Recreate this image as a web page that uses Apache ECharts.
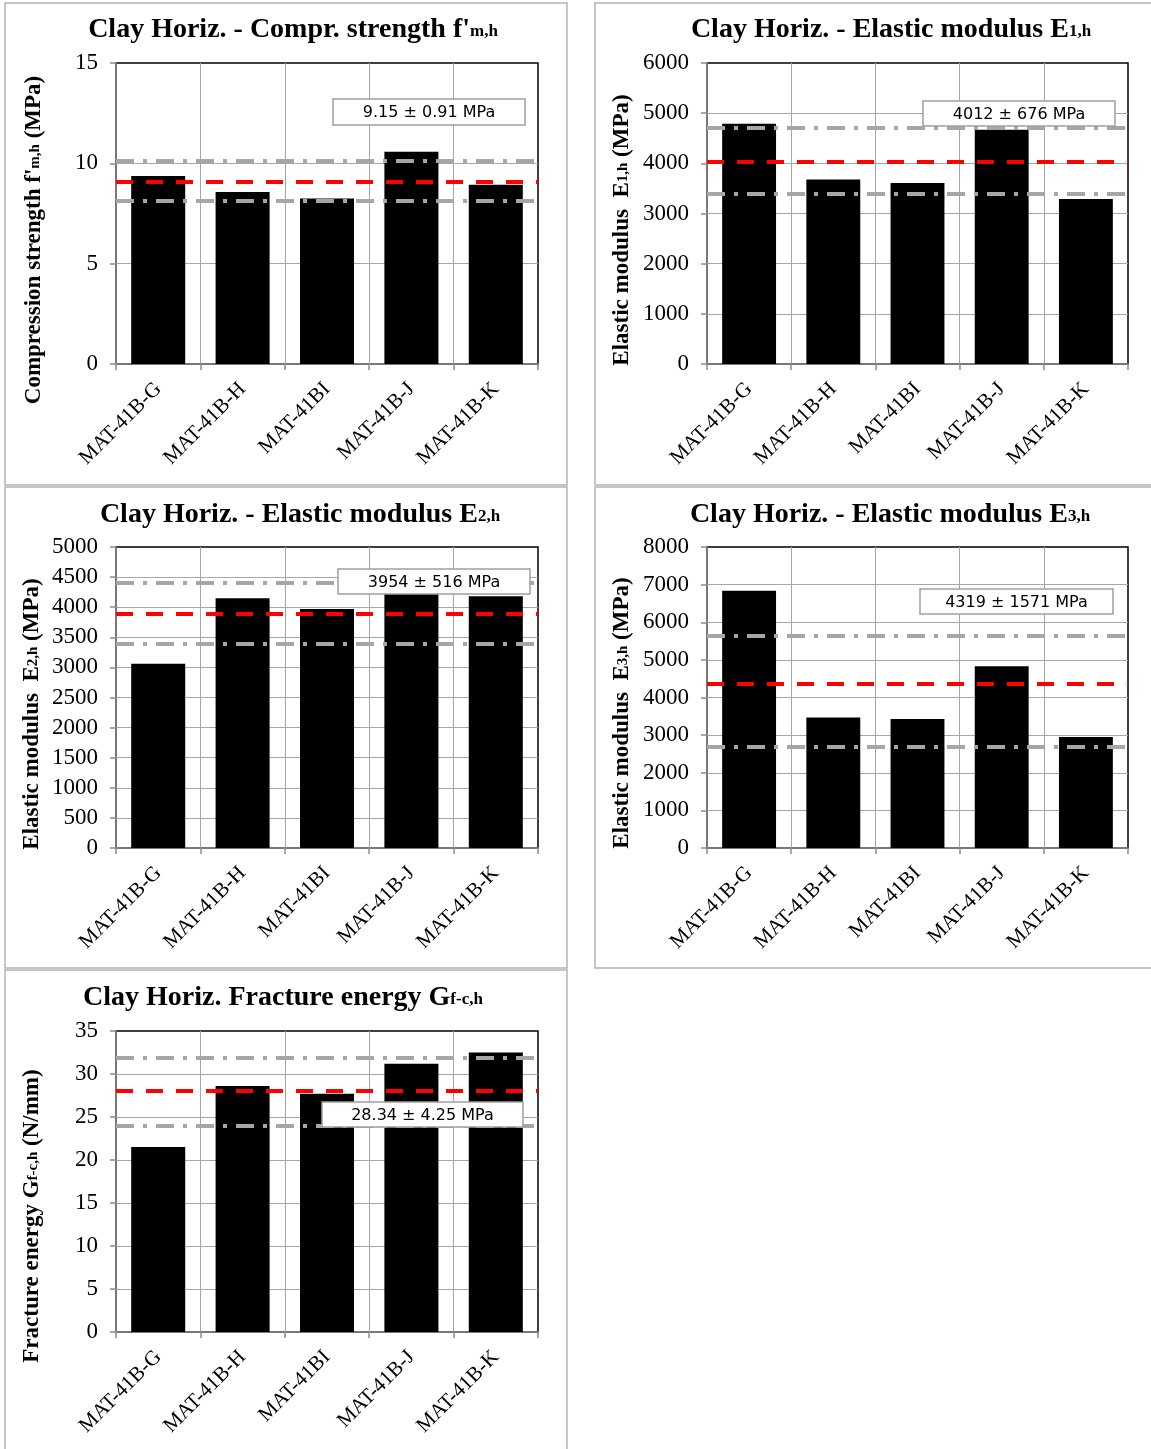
<!DOCTYPE html>
<html><head><meta charset="utf-8">
<script src="https://cdn.jsdelivr.net/npm/echarts@6/dist/echarts.min.js"></script>
<style>html,body{margin:0;padding:0;background:#fff}#c{width:1151px;height:1449px}</style>
</head><body><div id="c"></div>
<script>
// ---------- data ----------
const categories = ['MAT-41B-G', 'MAT-41B-H', 'MAT-41BI', 'MAT-41B-J', 'MAT-41B-K'];

const comprStrength = [9.37, 8.57, 8.25, 10.58, 8.93];      // MPa
const comprLines    = [10.15, 9.07, 8.12];                   // upper, mean, lower
const elasticE1     = [4790, 3680, 3610, 4670, 3290];       // MPa
const e1Lines       = [4710, 4030, 3390];
const elasticE2     = [3060, 4150, 3970, 4220, 4180];       // MPa
const e2Lines       = [4410, 3890, 3390];
const elasticE3     = [6840, 3470, 3430, 4830, 2950];       // MPa
const e3Lines       = [5630, 4360, 2690];
const fractureGf    = [21.5, 28.6, 27.7, 31.2, 32.5];       // N/mm
const gfLines       = [31.9, 28.0, 24.0];

const axisMax       = [15, 6000, 5000, 8000, 35];
const axisInterval  = [5, 1000, 500, 1000, 5];

const notes = ['9.15 ± 0.91 MPa', '4012 ± 676 MPa', '3954 ± 516 MPa', '4319 ± 1571 MPa', '28.34 ± 4.25 MPa'];

const titleParts = [
  ["Clay Horiz. - Compr. strength f'", 'm,h'],
  ['Clay Horiz. - Elastic modulus E', '1,h'],
  ['Clay Horiz. - Elastic modulus E', '2,h'],
  ['Clay Horiz. - Elastic modulus E', '3,h'],
  ['Clay Horiz. Fracture energy G', 'f-c,h']
];
const yNameParts = [
  ["Compression strength f'", 'm,h', ' (MPa)'],
  ['Elastic modulus  E', '1,h', ' (MPa)'],
  ['Elastic modulus  E', '2,h', ' (MPa)'],
  ['Elastic modulus  E', '3,h', ' (MPa)'],
  ['Fracture energy G', 'f-c,h', ' (N/mm)']
];

const seriesValues = [comprStrength, elasticE1, elasticE2, elasticE3, fractureGf];
const seriesLines  = [comprLines, e1Lines, e2Lines, e3Lines, gfLines];

// ---------- layout ----------
const layout = [
  {frame: [5, 3, 562, 482],   grid: [116, 63, 422, 301],  title: [293, 30],  yname: [34, 240],   box: [333, 99, 192, 26]},
  {frame: [595, 3, 560, 482], grid: [707, 63, 421, 301],  title: [891, 30],  yname: [622, 230],  box: [923, 101, 192, 25]},
  {frame: [5, 487, 562, 481], grid: [116, 547, 422, 301], title: [300, 515], yname: [32, 714],   box: [338, 569, 192, 25]},
  {frame: [595, 487, 560, 481], grid: [707, 547, 421, 301], title: [890, 515], yname: [622, 713], box: [920, 589, 193, 25]},
  {frame: [5, 970, 562, 482], grid: [116, 1031, 422, 301], title: [283, 998], yname: [32, 1216], box: [322, 1102, 201, 25]}
];

const SERIF = '"Liberation Serif", "Times New Roman", serif';
const SANS = '"DejaVu Sans", Verdana, sans-serif';
const AXIS_GREY = '#8c8c8c';
const GRID_GREY = '#a6a6a6';

const grayLine = {color: '#a6a6a6', width: 4, type: [18, 9, 4, 9], opacity: 1};
const redLine  = {color: '#ff0000', width: 4, type: [17, 13], opacity: 1};

const grids = [], xAxes = [], yAxes = [], series = [], graphics = [];

layout.forEach((L, i) => {
  const [gl, gt, gw, gh] = L.grid;
  grids.push({left: gl, top: gt, width: gw, height: gh, show: true,
    borderColor: '#000', borderWidth: 1.5, backgroundColor: 'transparent', containLabel: false});
  xAxes.push({
    type: 'category', gridIndex: i, data: categories,
    axisLine: {lineStyle: {color: AXIS_GREY, width: 1.5}},
    axisTick: {show: true, length: 6, lineStyle: {color: AXIS_GREY, width: 1.5}},
    splitLine: {show: true, showMinLine: false, showMaxLine: false, lineStyle: {color: GRID_GREY, width: 1}},
    axisLabel: {rotate: 45, interval: 0, margin: 22, color: '#000', fontFamily: SERIF, fontSize: 21}
  });
  yAxes.push({
    type: 'value', gridIndex: i, min: 0, max: axisMax[i], interval: axisInterval[i],
    axisLine: {show: true, lineStyle: {color: AXIS_GREY, width: 1.5}},
    axisTick: {show: true, length: 6, lineStyle: {color: AXIS_GREY, width: 1.5}},
    splitLine: {show: true, showMinLine: false, showMaxLine: false, lineStyle: {color: GRID_GREY, width: 1}},
    axisLabel: {margin: 18, color: '#000', fontFamily: SERIF, fontSize: 23, formatter: v => String(v)}
  });
  const ln = seriesLines[i];
  series.push({
    type: 'bar', xAxisIndex: i, yAxisIndex: i, data: seriesValues[i],
    barCategoryGap: '36%', itemStyle: {color: '#000'},
    markLine: {
      silent: true, symbol: ['none', 'none'], label: {show: false},
      data: [
        {yAxis: ln[0], lineStyle: grayLine},
        {yAxis: ln[1], lineStyle: redLine},
        {yAxis: ln[2], lineStyle: grayLine}
      ]
    }
  });

  // panel frame
  const [fx, fy, fw, fh] = L.frame;
  graphics.push({type: 'rect', shape: {x: fx, y: fy, width: fw, height: fh},
    style: {fill: 'none', stroke: '#b4b4b4', lineWidth: 1.5}, z: 50, silent: true});

  // title
  const tp = titleParts[i];
  graphics.push({type: 'text', x: L.title[0], y: L.title[1], z: 60, silent: true,
    style: {
      text: '{a|' + tp[0] + '}{b|' + tp[1] + '}',
      align: 'center', verticalAlign: 'middle', textAlign: 'center', textVerticalAlign: 'middle',
      rich: {
        a: {fontFamily: SERIF, fontWeight: 'bold', fontSize: 28, fill: '#000'},
        b: {fontFamily: SERIF, fontWeight: 'bold', fontSize: 17, fill: '#000', verticalAlign: 'bottom', padding: [0, 0, 4, 0]}
      }
    }});

  // y axis name (rotated)
  const yp = yNameParts[i];
  graphics.push({type: 'text', x: L.yname[0], y: L.yname[1], rotation: Math.PI / 2, z: 60, silent: true,
    style: {
      text: '{a|' + yp[0] + '}{b|' + yp[1] + '}{a|' + yp[2] + '}',
      align: 'center', verticalAlign: 'middle', textAlign: 'center', textVerticalAlign: 'middle',
      rich: {
        a: {fontFamily: SERIF, fontWeight: 'bold', fontSize: 23, fill: '#000'},
        b: {fontFamily: SERIF, fontWeight: 'bold', fontSize: 15, fill: '#000', verticalAlign: 'bottom', padding: [0, 0, 3, 0]}
      }
    }});

  // annotation box
  const [bx, by, bw, bh] = L.box;
  graphics.push({type: 'rect', shape: {x: bx, y: by, width: bw, height: bh},
    style: {fill: '#fff', stroke: '#a0a0a0', lineWidth: 1.5}, z: 100, silent: true});
  graphics.push({type: 'text', x: bx + bw / 2, y: by + bh / 2 + 1, z: 101, silent: true,
    style: {text: notes[i], fontFamily: SANS, fontSize: 16, fill: '#000',
      align: 'center', verticalAlign: 'middle', textAlign: 'center', textVerticalAlign: 'middle'}});
});

const chart = echarts.init(document.getElementById('c'), null, {renderer: 'canvas'});
chart.setOption({
  animation: false,
  backgroundColor: '#fff',
  grid: grids, xAxis: xAxes, yAxis: yAxes, series: series,
  graphic: {elements: graphics}
});
</script>
</body></html>
